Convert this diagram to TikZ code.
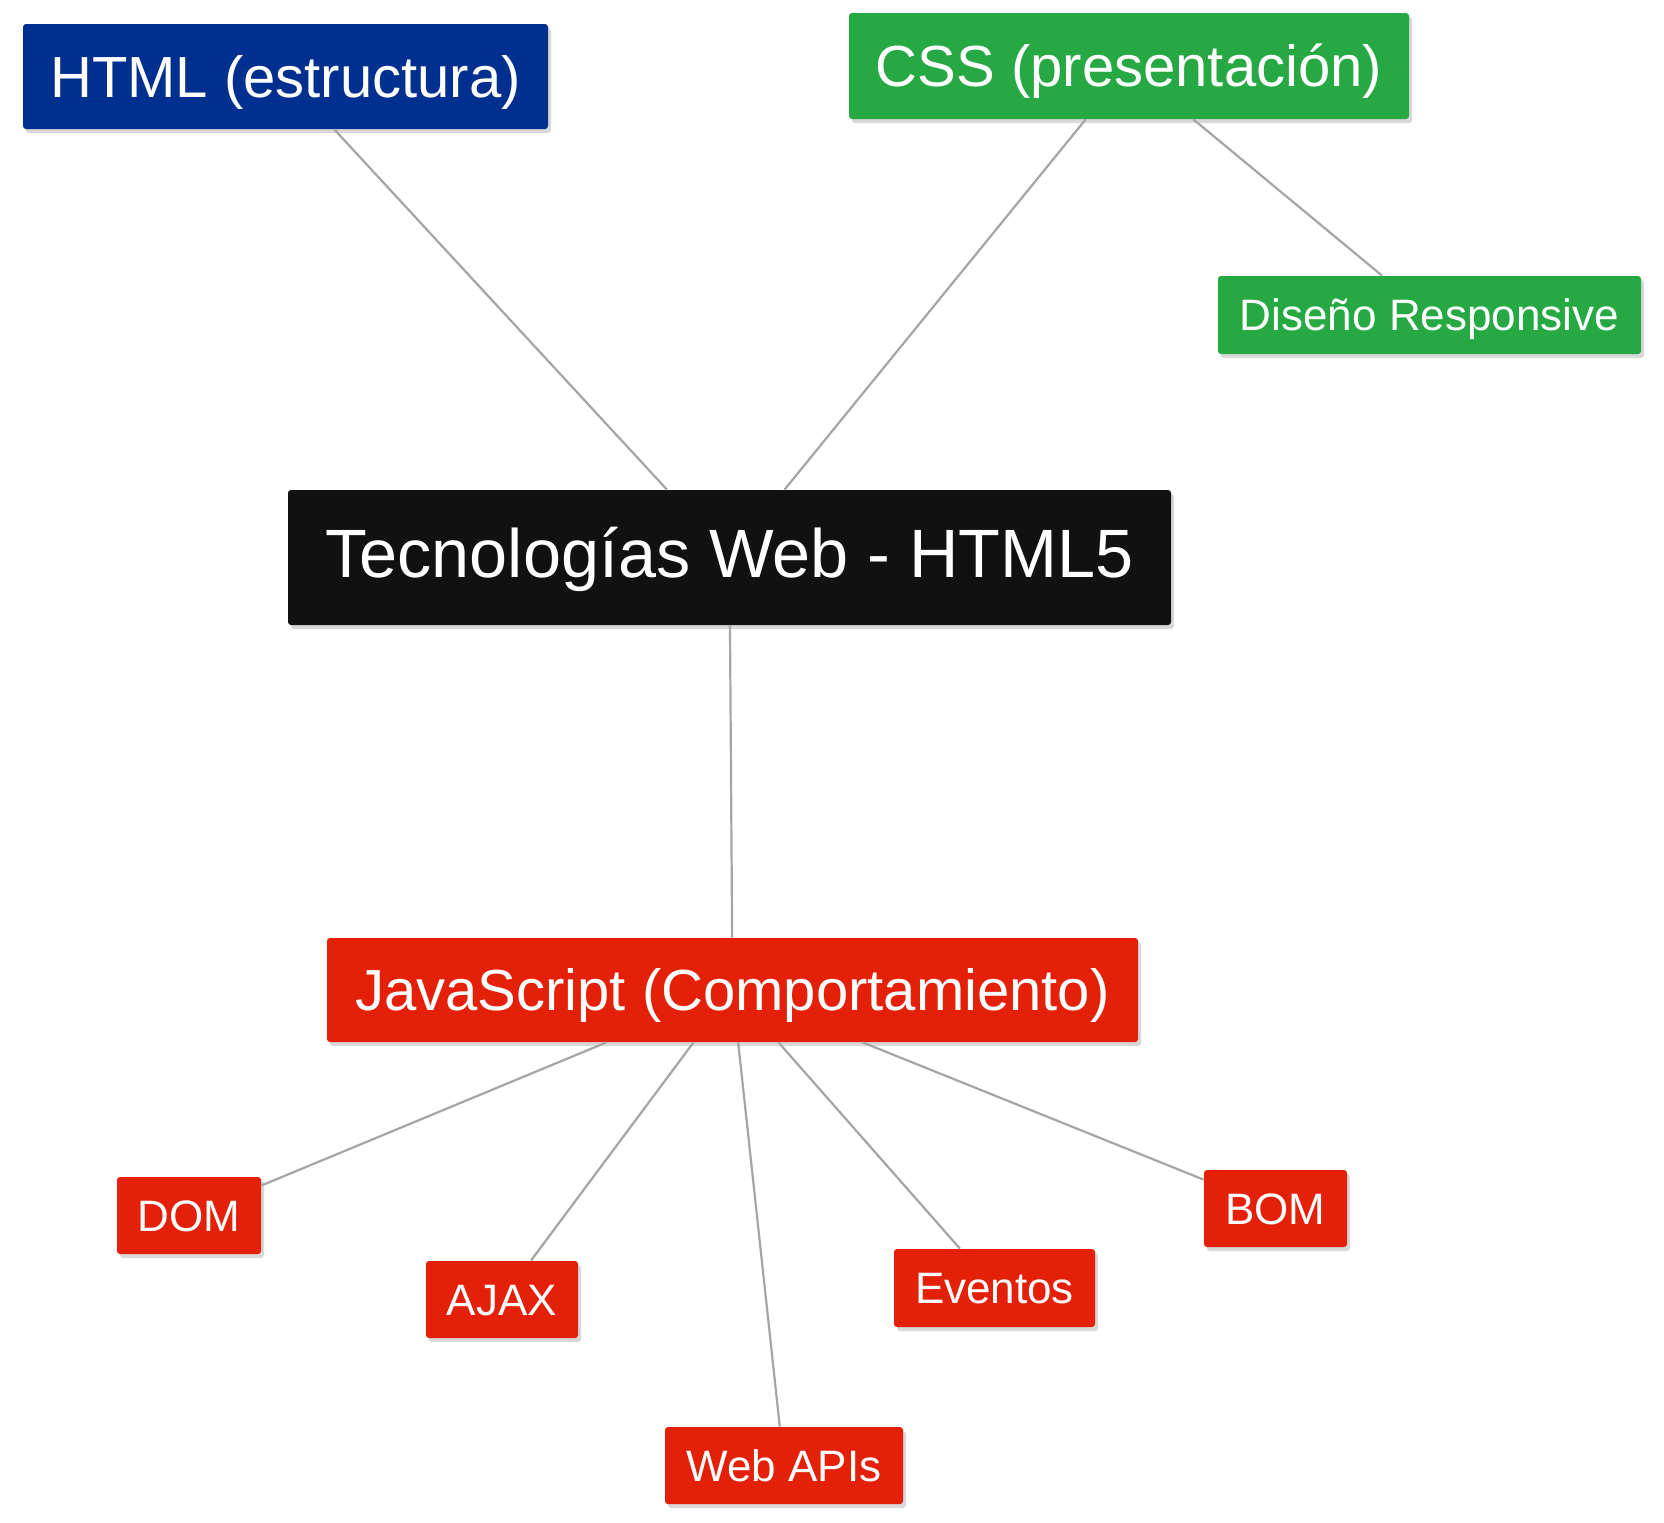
\documentclass[tikz,border=0pt]{standalone}
\usepackage{fontspec}
\setmainfont{Liberation Sans}
\usetikzlibrary{shadows}
\definecolor{cblue}{RGB}{0,48,143}
\definecolor{cgreen}{RGB}{38,168,66}
\definecolor{cred}{RGB}{229,32,8}
\definecolor{cblack}{RGB}{17,17,17}
\definecolor{cline}{RGB}{165,165,165}
\tikzset{
  box/.style={rectangle, rounded corners=1.5pt, inner sep=0pt, text=white,
    drop shadow={opacity=0.3, shadow xshift=1.5pt, shadow yshift=-2pt}},
  big/.style={box, font=\fontsize{29}{32}\selectfont, text height=20.8pt, text depth=0pt},
  small/.style={box, font=\fontsize{22}{25}\selectfont, text height=15.8pt, text depth=0pt},
  root/.style={box, fill=cblack, font=\fontsize{34.2}{38}\selectfont, text height=25.5pt, text depth=5.3pt},
  link/.style={draw=cline, line width=1.1pt},
}
\begin{document}
\begin{tikzpicture}[x=0.5pt,y=-0.5pt]
\path[use as bounding box, fill=white] (0,0) rectangle (1664,1522);
\node[root, minimum width=441.5pt, minimum height=67.5pt] (main) at (729.5,557.5) {Tecnologías Web - HTML5};
\node[big, fill=cblue, minimum width=262.5pt, minimum height=52.5pt] (html) at (285.5,76.5) {HTML (estructura)};
\node[big, fill=cgreen, minimum width=280pt, minimum height=53pt] (css) at (1129,66) {CSS (presentación)};
\node[small, fill=cgreen, minimum width=211.5pt, minimum height=39pt] (resp) at (1429.5,315) {Diseño Responsive};
\node[big, fill=cred, minimum width=405.5pt, minimum height=52pt] (js) at (732.5,990) {JavaScript (Comportamiento)};
\node[small, fill=cred, minimum width=72pt, minimum height=38.5pt] (dom) at (189,1215.5) {DOM};
\node[small, fill=cred, minimum width=76pt, minimum height=38.5pt] (ajax) at (502,1299.5) {AJAX};
\node[small, fill=cred, minimum width=119pt, minimum height=38.5pt] (apis) at (784,1465.5) {Web APIs};
\node[small, fill=cred, minimum width=100.5pt, minimum height=39pt] (ev) at (994.5,1288) {Eventos};
\node[small, fill=cred, minimum width=71.5pt, minimum height=38.5pt] (bom) at (1275.5,1208.5) {BOM};
\draw[link] (html) -- (main);
\draw[link] (css) -- (main);
\draw[link] (css) -- (resp);
\draw[link] (main) -- (js);
\draw[link] (js) -- (dom);
\draw[link] (js) -- (ajax);
\draw[link] (js) -- (apis);
\draw[link] (js) -- (ev);
\draw[link] (js) -- (bom);
\end{tikzpicture}
\end{document}
